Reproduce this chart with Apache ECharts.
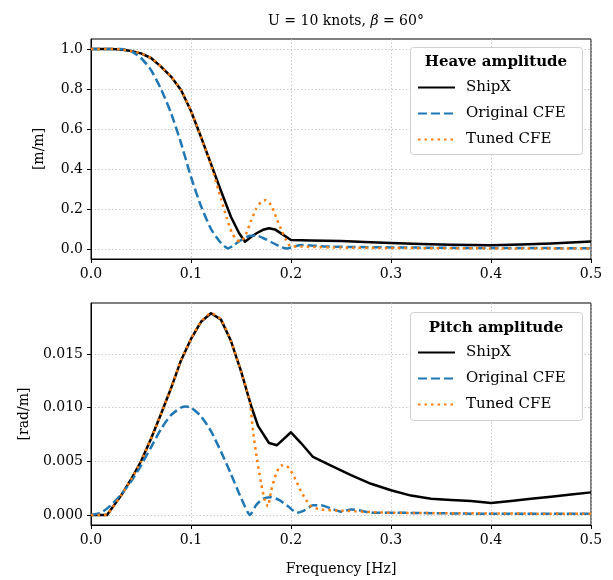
<!DOCTYPE html>
<html>
<head>
<meta charset="utf-8">
<script src="https://cdn.jsdelivr.net/npm/echarts@6/dist/echarts.min.js"></script>
<style>
html,body{margin:0;padding:0;background:#fff;}
#chart{width:613px;height:580px;}
</style>
</head>
<body>
<div id="chart"></div>
<script>
// ---------- DATA ----------
var seriesNames = ['ShipX', 'Original CFE', 'Tuned CFE'];
var heaveTicks = [0, 0.2, 0.4, 0.6, 0.8, 1.0];
var pitchTicks = [0, 0.005, 0.010, 0.015];

// Heave amplitude [m/m]
var heaveShipXF = [0, 0.02, 0.03, 0.04, 0.05, 0.06, 0.07, 0.08, 0.09, 0.1, 0.11, 0.12, 0.13, 0.14, 0.148, 0.154, 0.16, 0.166, 0.172, 0.178, 0.184, 0.19, 0.2, 0.22, 0.25, 0.28, 0.3, 0.33, 0.36, 0.4, 0.43, 0.46, 0.5];
var heaveShipXV = [1.0, 1.0, 0.998, 0.99, 0.978, 0.955, 0.912, 0.862, 0.795, 0.69, 0.56, 0.425, 0.29, 0.16, 0.08, 0.036, 0.06, 0.08, 0.096, 0.104, 0.098, 0.078, 0.045, 0.043, 0.04, 0.034, 0.03, 0.025, 0.021, 0.019, 0.022, 0.028, 0.037];

var heaveOrigF = [0, 0.03, 0.04, 0.05, 0.06, 0.07, 0.08, 0.09, 0.1, 0.11, 0.12, 0.13, 0.137, 0.143, 0.15, 0.158, 0.165, 0.172, 0.18, 0.19, 0.196, 0.203, 0.21, 0.22, 0.23, 0.24, 0.26, 0.3, 0.35, 0.4, 0.5];
var heaveOrigV = [1.0, 1.0, 0.99, 0.955, 0.895, 0.8, 0.68, 0.53, 0.36, 0.215, 0.1, 0.03, 0.003, 0.02, 0.045, 0.065, 0.068, 0.055, 0.035, 0.01, 0.002, 0.012, 0.02, 0.018, 0.014, 0.012, 0.01, 0.008, 0.006, 0.005, 0.004];

var heaveTunedF = [0, 0.02, 0.03, 0.04, 0.05, 0.06, 0.07, 0.08, 0.09, 0.1, 0.11, 0.12, 0.13, 0.136, 0.141, 0.146, 0.15, 0.155, 0.16, 0.165, 0.17, 0.175, 0.18, 0.185, 0.19, 0.195, 0.2, 0.21, 0.22, 0.25, 0.3, 0.4, 0.5];
var heaveTunedV = [1.0, 1.0, 0.998, 0.99, 0.978, 0.955, 0.912, 0.862, 0.795, 0.69, 0.56, 0.42, 0.25, 0.15, 0.08, 0.045, 0.037, 0.075, 0.14, 0.2, 0.235, 0.245, 0.22, 0.16, 0.1, 0.045, 0.012, 0.012, 0.01, 0.007, 0.005, 0.003, 0.002];

// Pitch amplitude [rad/m]
var pitchShipXF = [0, 0.016, 0.02, 0.03, 0.04, 0.05, 0.06, 0.07, 0.08, 0.09, 0.1, 0.11, 0.12, 0.13, 0.14, 0.15, 0.16, 0.167, 0.178, 0.186, 0.2, 0.21, 0.222, 0.24, 0.26, 0.28, 0.3, 0.32, 0.34, 0.36, 0.38, 0.4, 0.42, 0.44, 0.46, 0.48, 0.5];
var pitchShipXV = [0, 0, 0.0005, 0.0018, 0.0033, 0.005, 0.0071, 0.0094, 0.0118, 0.0144, 0.0164, 0.018, 0.0188, 0.0182, 0.0162, 0.0134, 0.0102, 0.0083, 0.0067, 0.0065, 0.0077, 0.0067, 0.0054, 0.0046, 0.0037, 0.0029, 0.0023, 0.0018, 0.0015, 0.0014, 0.0013, 0.0011, 0.0013, 0.0015, 0.0017, 0.0019, 0.0021];

var pitchOrigF = [0, 0.01, 0.02, 0.03, 0.04, 0.05, 0.06, 0.07, 0.08, 0.09, 0.095, 0.1, 0.11, 0.12, 0.13, 0.14, 0.15, 0.159, 0.165, 0.172, 0.18, 0.188, 0.197, 0.206, 0.213, 0.222, 0.23, 0.24, 0.25, 0.26, 0.27, 0.28, 0.3, 0.4, 0.5];
var pitchOrigV = [0, 0.0002, 0.0009, 0.0019, 0.0031, 0.0046, 0.0063, 0.008, 0.0093, 0.01, 0.0101, 0.01, 0.0092, 0.0078, 0.0059, 0.0038, 0.0016, 0.0, 0.0009, 0.0015, 0.00165, 0.0014, 0.0008, 0.0002, 0.0004, 0.0009, 0.0009, 0.0006, 0.0003, 0.0005, 0.0004, 0.0002, 0.0002, 0.0001, 0.0001];

var pitchTunedF = [0, 0.016, 0.02, 0.03, 0.04, 0.05, 0.06, 0.07, 0.08, 0.09, 0.1, 0.11, 0.12, 0.13, 0.14, 0.15, 0.156, 0.159, 0.162, 0.166, 0.17, 0.174, 0.177, 0.18, 0.185, 0.19, 0.195, 0.2, 0.205, 0.21, 0.215, 0.22, 0.23, 0.25, 0.3, 0.5];
var pitchTunedV = [0, 0, 0.0005, 0.0018, 0.0033, 0.005, 0.0071, 0.0094, 0.0118, 0.0144, 0.0164, 0.018, 0.0188, 0.0182, 0.0162, 0.0134, 0.0115, 0.0105, 0.0078, 0.0052, 0.003, 0.0013, 0.0008, 0.0022, 0.0038, 0.0046, 0.0046, 0.0041, 0.0032, 0.0022, 0.0014, 0.0008, 0.0005, 0.0004, 0.0002, 0.0001];

// ---------- BUILD ----------
function pairs(fs, vs) { return fs.map(function (f, i) { return [f, vs[i]]; }); }
var FONT = 'DejaVu Serif';
var colors = ['#000000', '#1f77b4', '#ff7f0e'];
var styles = [
  { width: 2.5, type: 'solid' },
  { width: 2.5, type: [9, 4] },
  { width: 2.5, type: [2.5, 4] }
];

var chart = echarts.init(document.getElementById('chart'), null, { renderer: 'canvas' });

var gridLine = { show: true, lineStyle: { color: '#bdbdbd', type: [1.5, 2], width: 0.8 } };

function xAxisCfg(gridIndex, showName) {
  return {
    type: 'value', gridIndex: gridIndex, min: 0, max: 0.5, interval: 0.1,
    name: showName ? 'Frequency [Hz]' : '', nameLocation: 'middle', nameGap: 37,
    nameTextStyle: { fontFamily: FONT, fontSize: 14, color: '#000' },
    axisLine: { onZero: false, lineStyle: { color: '#000', width: 1 } },
    axisTick: { show: true, length: 4, inside: false, lineStyle: { color: '#000' } },
    axisLabel: { fontFamily: FONT, fontSize: 14, color: '#000', margin: 8,
      formatter: function (v) { return v.toFixed(1); } },
    splitLine: gridLine
  };
}

function yAxisCfg(gridIndex, min, max, ticks, name, gap, dec) {
  return {
    type: 'value', gridIndex: gridIndex, min: min, max: max,
    name: name, nameLocation: 'middle', nameGap: gap,
    nameTextStyle: { fontFamily: FONT, fontSize: 14, color: '#000' },
    axisLine: { show: true, onZero: false, lineStyle: { color: '#000', width: 1 } },
    axisTick: { show: true, length: 4, inside: false, customValues: ticks, lineStyle: { color: '#000' } },
    axisLabel: { fontFamily: FONT, fontSize: 14, color: '#000', margin: 8, customValues: ticks,
      formatter: function (v) { return v.toFixed(dec); } },
    splitLine: gridLine
  };
}

var data = [
  [pairs(heaveShipXF, heaveShipXV), pairs(heaveOrigF, heaveOrigV), pairs(heaveTunedF, heaveTunedV)],
  [pairs(pitchShipXF, pitchShipXV), pairs(pitchOrigF, pitchOrigV), pairs(pitchTunedF, pitchTunedV)]
];

var series = [];
for (var g = 0; g < 2; g++) {
  for (var s = 0; s < 3; s++) {
    series.push({
      type: 'line', name: seriesNames[s], xAxisIndex: g, yAxisIndex: g,
      data: data[g][s], symbol: 'none', smooth: s === 0 ? false : 0.2,
      color: colors[s],
      lineStyle: { color: colors[s], width: styles[s].width, type: styles[s].type, cap: 'butt', join: 'round' },
      z: 2 + s, animation: false
    });
  }
}

function legendCfg(top) {
  return {
    data: seriesNames, orient: 'vertical', left: 417, top: top,
    itemWidth: 37, itemHeight: 14, itemGap: 11, padding: 0,
    itemStyle: { color: 'rgba(0,0,0,0)', borderColor: 'rgba(0,0,0,0)', borderWidth: 0, opacity: 0 },
    textStyle: { fontFamily: FONT, fontSize: 15, color: '#000', padding: [0, 0, 0, 6] },
    selectedMode: false, z: 20
  };
}

function boxGraphics(y, h, title, titleY) {
  return [
    { type: 'rect', left: 410, top: y, shape: { width: 172, height: h, r: 3 },
      style: { fill: '#fff', stroke: '#d0d0d0', lineWidth: 1 }, z: 10 },
    { type: 'text', x: 496, y: titleY, z: 11,
      style: { text: title, fill: '#000', font: 'bold 15px "DejaVu Serif"', textAlign: 'center', textVerticalAlign: 'middle' } }
  ];
}

var option = {
  backgroundColor: '#fff',
  animation: false,
  title: {
    text: '{a|U = 10 knots, }{b|β}{a| = 60°}', left: 341, top: 9, textAlign: 'center',
    textStyle: { fontWeight: 'normal', fontFamily: FONT, fontSize: 14, rich: {
      a: { fontFamily: FONT, fontSize: 14, fontWeight: 'normal', color: '#000' },
      b: { fontFamily: FONT, fontSize: 14, fontWeight: 'normal', fontStyle: 'italic', color: '#000' } } }
  },
  grid: [
    { left: 91, top: 39, width: 500, height: 220, show: true, borderColor: '#000', borderWidth: 1, backgroundColor: 'transparent', containLabel: false },
    { left: 91, top: 303, width: 500, height: 222, show: true, borderColor: '#000', borderWidth: 1, backgroundColor: 'transparent', containLabel: false }
  ],
  xAxis: [xAxisCfg(0, false), xAxisCfg(1, true)],
  yAxis: [
    yAxisCfg(0, -0.05, 1.05, heaveTicks, '[m/m]', 45, 1),
    yAxisCfg(1, -0.00094, 0.01975, pitchTicks, '[rad/m]', 60, 3)
  ],
  legend: [legendCfg(80), legendCfg(345)],
  graphic: boxGraphics(47, 107, 'Heave amplitude', 62).concat(boxGraphics(312, 108, 'Pitch amplitude', 328)),
  series: series
};
chart.setOption(option);
</script>
</body>
</html>
